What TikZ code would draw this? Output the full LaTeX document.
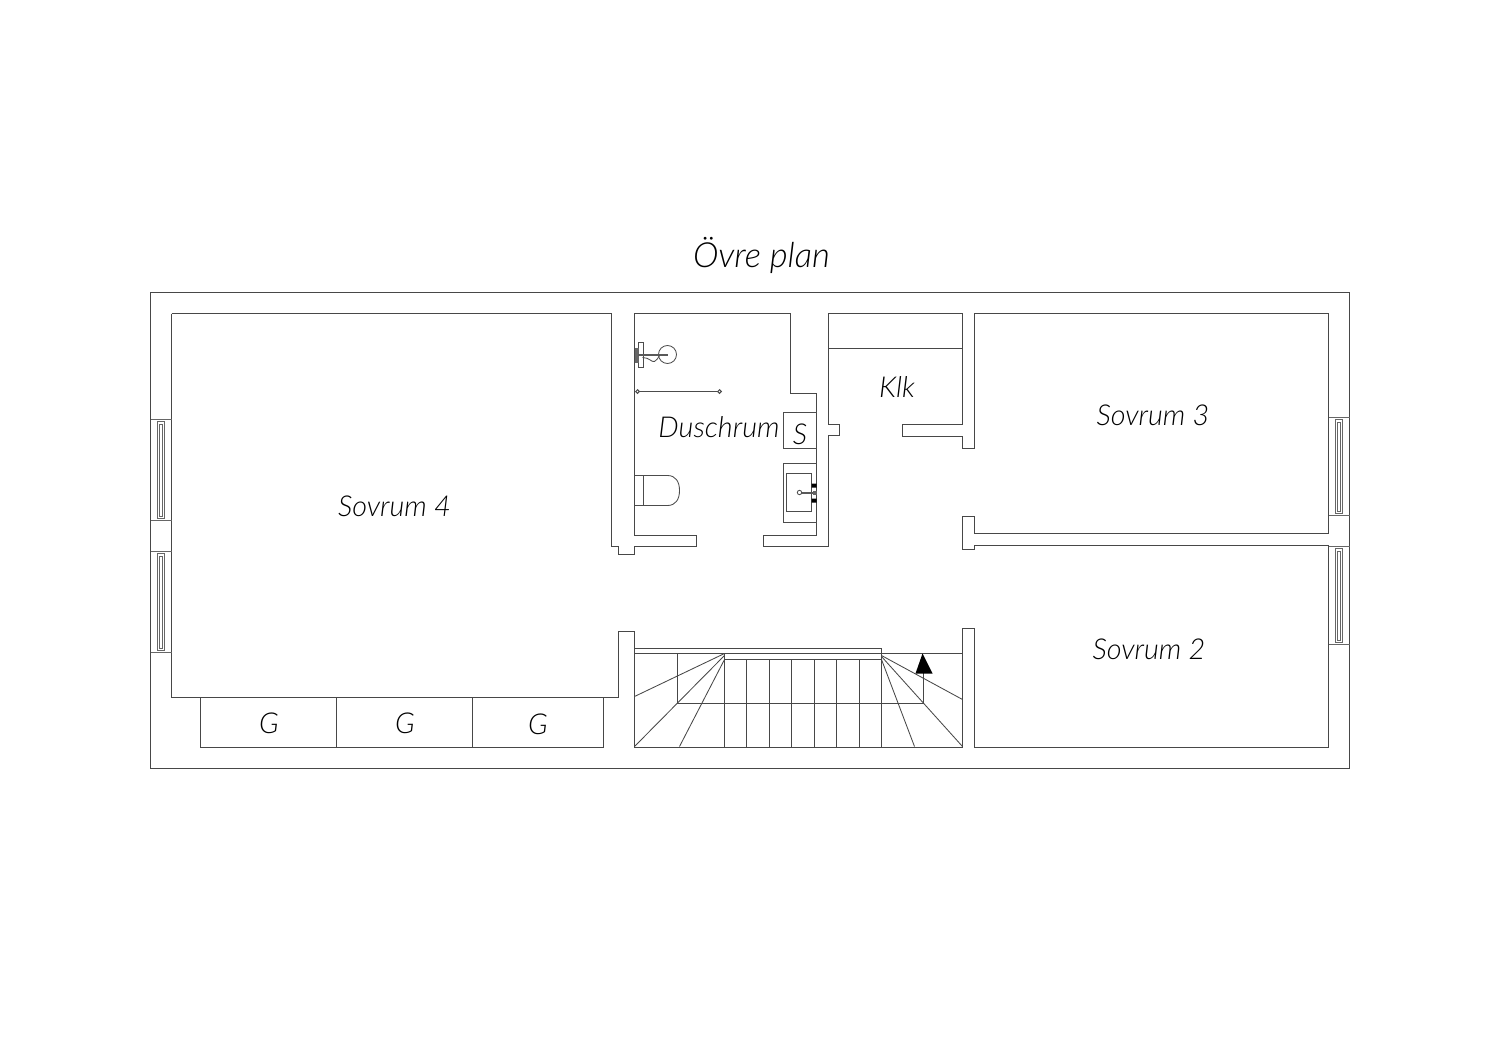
\documentclass[tikz,border=0pt]{standalone}
\usepackage{fontspec}
\setmainfont{Lato}[ItalicFont={Lato Light Italic}]
\tikzset{
  wall/.style={draw=black!72,line width=0.42pt,line join=miter},
  thin wall/.style={draw=black!60,line width=0.38pt},
  roomlabel/.style={font=\itshape\fontsize{14.4}{16}\selectfont,text=black,inner sep=0pt},
  titlelabel/.style={font=\itshape\fontsize{17.3}{20}\selectfont,text=black,inner sep=0pt},
  fixture/.style={draw=black!70,line width=0.42pt},
  heavy fixture/.style={draw=black!65,line width=1pt}
}
\begin{document}
\begin{tikzpicture}[x=0.5pt,y=-0.5pt]
\useasboundingbox (0,0) rectangle (1500,1060);
\fill[white] (0,0) rectangle (1500,1060);
\begin{scope}[shift={(-0.5,-0.5)}]
% outer
\draw[wall] (151,293) rectangle (1350,769);
% Sovrum 4 + bathroom outline
\draw[wall] (172,314) -- (612,314) -- (612,547) -- (619,547) -- (619,555) -- (635,555) -- (635,547) -- (697,547) -- (697,536) -- (635,536) -- (635,314) -- (791,314) -- (791,394) -- (817,394) -- (817,536) -- (764,536) -- (764,547) -- (829,547) -- (829,436) -- (840,436) -- (840,425) -- (829,425) -- (829,314) -- (963,314) -- (963,425) -- (903,425) -- (903,437) -- (963,437) -- (963,449) -- (975,449) -- (975,314) -- (1329,314) -- (1329,534) -- (975,534) -- (975,517) -- (963,517) -- (963,550) -- (975,550) -- (975,546) -- (1329,546) -- (1329,748) -- (975,748) -- (975,629) -- (963,629) -- (963,748);
\draw[wall] (172,314) -- (172,698) -- (619,698) -- (619,632) -- (635,632) -- (635,748) -- (963,748);
\draw[wall] (829,349) -- (963,349);
% closets
\draw[wall] (201,698) -- (201,748) -- (604,748) -- (604,698);
\draw[wall] (337,698) -- (337,748) (473,698) -- (473,748);
% windows left
\foreach \a/\b in {420/521,552/653}{
  \draw[thin wall] (151,\a) -- (172,\a) (151,\b) -- (172,\b);
  \draw[thin wall] (158,\a+2) rectangle (165,\b-2);
  \draw[thin wall] (160,\a+5) rectangle (163,\b-4);
}
% windows right
\foreach \a/\b in {418/516,547/645}{
  \draw[thin wall] (1329,\a) -- (1350,\a) (1329,\b) -- (1350,\b);
  \draw[thin wall] (1336,\a+2) rectangle (1343,\b-2);
  \draw[thin wall] (1338,\a+5) rectangle (1341,\b-4);
}
% stairs
\draw[wall] (635,649) -- (882,649) -- (882,748);
\draw[wall] (635,654) -- (963,654);
\draw[wall] (725,660) -- (882,660);
\draw[wall] (678,654) -- (678,704) -- (924,704) -- (924,672);
\draw[wall] (725,654) -- (725,748);
\foreach \x in {747,770,792,815,837,860}{
  \draw[wall] (\x,660) -- (\x,748);
}
\draw[wall] (725,654) -- (635,697);
\draw[wall] (725,656) -- (635,747);
\draw[wall] (725,660) -- (680,747);
\draw[wall] (882,656) -- (963,700);
\draw[wall] (882,657) -- (963,747);
\draw[wall] (882,660) -- (915,747);
\fill[black] (923,654) -- (916,674) -- (933,674) -- cycle;
% shower
\draw[fixture] (668,355) circle[radius=9];
\draw[heavy fixture] (635,355) -- (668,355);
\draw[fixture,fill=white] (638.5,343) rectangle (643.5,368);
\fill[black!60] (635.5,348) rectangle (639,363);
\draw[heavy fixture] (638.5,355) -- (650,355);
\draw[fixture] (643,358) .. controls (650,358) and (652,363) .. (655,362) .. controls (658,361) and (658,358) .. (660,356);
\draw[fixture,line width=0.7pt] (638,392) -- (720,392);
\draw[fixture,fill=white,line width=0.5pt] (638,392) circle[radius=1.8] (720,392) circle[radius=1.8];
% S box
\draw[fixture] (817,413) -- (784,413) -- (784,449) -- (817,449);
% sink
\draw[fixture] (817,464) -- (784,464) -- (784,523) -- (817,523);
\draw[fixture] (812,474) -- (787,474) -- (787,512) -- (812,512) -- cycle;
\draw[heavy fixture] (800,493) -- (815,493);
\draw[fixture,fill=white] (800,493) circle[radius=2.2];
\fill[black] (812,484) rectangle (817,488) (812,499) rectangle (817,503);
\fill[black!60] (813,491) rectangle (817,495);
% toilet
\draw[fixture] (635,476) -- (668,476) .. controls (676,476) and (680,482) .. (680,491) .. controls (680,500) and (676,506) .. (668,506) -- (635,506);
\draw[fixture] (644,476) -- (644,506);
\end{scope}
% labels
\node[titlelabel] (title) at (761.5,255) {Övre plan};
\node[roomlabel] (s4) at (394.5,506) {Sovrum 4};
\node[roomlabel] (s3) at (1153,415) {Sovrum 3};
\node[roomlabel] (s2) at (1149,649) {Sovrum 2};
\node[roomlabel] (dusch) at (719,427) {Duschrum};
\node[roomlabel] (klk) at (897,387) {Klk};
\node[roomlabel] (sbox) at (800,434) {S};
\node[roomlabel] (g1) at (269,723) {G};
\node[roomlabel] (g2) at (405,723) {G};
\node[roomlabel] (g3) at (538,724) {G};
\end{tikzpicture}
\end{document}
